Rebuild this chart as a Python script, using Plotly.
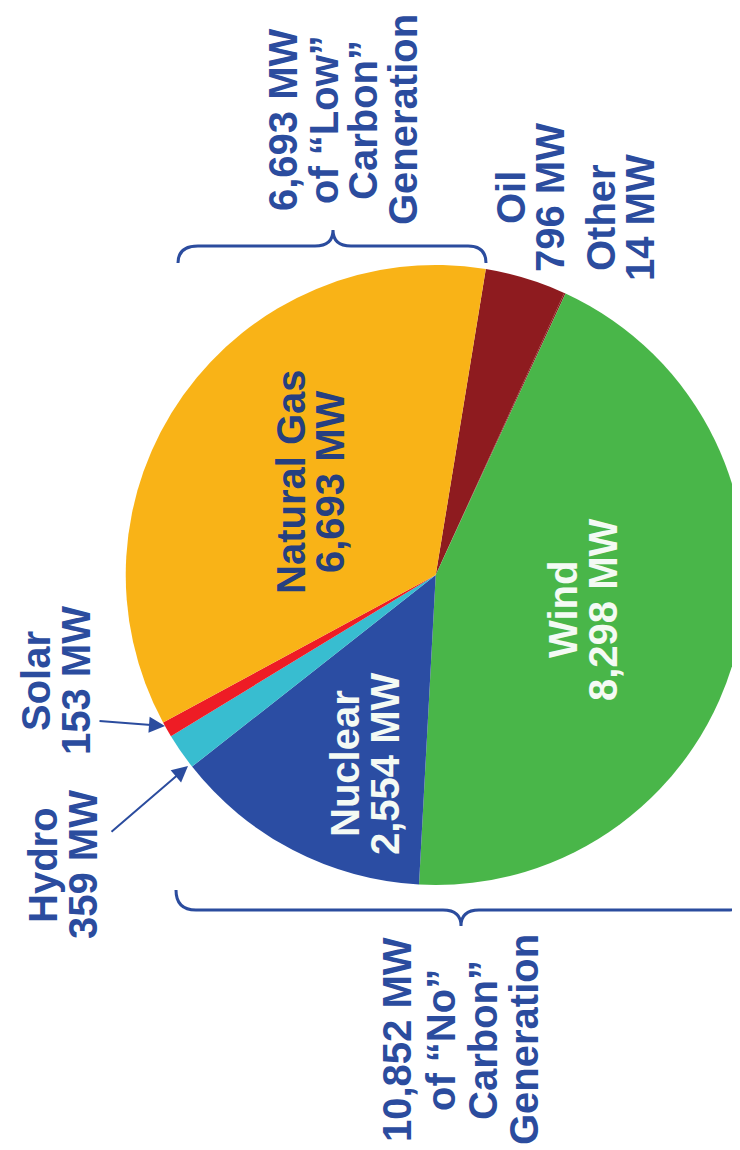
import plotly.graph_objects as go

# ---- data (clockwise order starting from the Gas/Oil boundary) ----
labels = ["Oil", "Other", "Wind", "Nuclear", "Hydro", "Solar", "Natural Gas"]
values_mw = [796, 14, 8298, 2554, 359, 153, 6693]
colors = ["#8E1B1F", "#8E1B1F", "#49B649", "#2B4DA3", "#38BDD0", "#EE1C25", "#F9B317"]

no_carbon_sources = ["Wind", "Nuclear"]
low_carbon_sources = ["Natural Gas"]

val = dict(zip(labels, values_mw))
no_carbon_total = sum(val[s] for s in no_carbon_sources)
low_carbon_total = sum(val[s] for s in low_carbon_sources)

def mw(v):
    return f"{v:,} MW"

BLUE = "#2B4C9E"
NAVY = "#263F80"
WHITE = "#F4FAF4"
FONT = "Liberation Sans, Arial, sans-serif"
FS = 40

fig = go.Figure()

fig.add_trace(go.Pie(
    labels=labels,
    values=values_mw,
    sort=False,
    direction="clockwise",
    rotation=9.3,
    marker=dict(colors=colors, line=dict(width=0)),
    textinfo="none",
    hoverinfo="label+value",
    showlegend=False,
    domain=dict(x=[0.159, 0.997], y=[0.2374, 0.7765]),
))

# invisible pixel-like axes for annotations and braces
fig.add_trace(go.Scatter(x=[0, 740], y=[0, 1150], mode="markers",
                         marker=dict(opacity=0), hoverinfo="skip", showlegend=False))

annotations = []

def block(lines, xs, yc, color):
    for line, x in zip(lines, xs):
        annotations.append(dict(
            x=x, y=yc, xref="x", yref="y", text=line, showarrow=False,
            textangle=-90, xanchor="center", yanchor="middle",
            font=dict(family=FONT, size=FS, color=color, weight="bold"),
        ))

# outside group labels
block([mw(low_carbon_total), "of \u201cLow\u201d", "Carbon\u201d", "Generation"],
      [275, 316, 355, 395], 112, BLUE)
block([mw(no_carbon_total), "of \u201cNo\u201d", "Carbon\u201d", "Generation"],
      [389, 433, 475, 516], 1032, BLUE)

# slice labels
block(["Natural Gas", mw(val["Natural Gas"])], [283, 322], 474, NAVY)
block(["Wind", mw(val["Wind"])], [555, 595], 602, WHITE)
block(["Nuclear", mw(val["Nuclear"])], [337, 377], 756, WHITE)
block(["Solar", mw(val["Solar"])], [28, 68], 673, BLUE)
block(["Hydro", mw(val["Hydro"])], [35, 75], 857, BLUE)
block(["Oil", mw(val["Oil"])], [503, 542], 190, BLUE)
block(["Other", mw(val["Other"])], [593, 632], 210, BLUE)

# arrows for the small slices
for (x0, y0, x1, y1) in [(90, 713, 157, 718), (102, 825, 180, 758)]:
    annotations.append(dict(
        x=x1, y=y1, ax=x0, ay=y0, xref="x", yref="y", axref="x", ayref="y",
        text="", showarrow=True, arrowhead=2, arrowsize=1.6, arrowwidth=2,
        arrowcolor=BLUE,
    ))

shapes = [
    dict(type="path", xref="x", yref="y",
         path="M 170,255 Q 170,238 190,238 L 307,238 Q 325,238 325,222 "
              "Q 325,238 343,238 L 460,238 Q 478,238 478,255",
         line=dict(color=BLUE, width=3)),
    dict(type="path", xref="x", yref="y",
         path="M 168,882 Q 168,902 188,902 L 435,902 Q 453,902 453,918 "
              "Q 453,902 471,902 L 720,902 Q 738,902 739,884",
         line=dict(color=BLUE, width=3)),
]

fig.update_layout(
    width=740, height=1150,
    margin=dict(l=0, r=0, t=0, b=0),
    paper_bgcolor="white", plot_bgcolor="rgba(0,0,0,0)",
    xaxis=dict(range=[0, 740], visible=False, fixedrange=True, domain=[0, 1]),
    yaxis=dict(range=[1150, 0], visible=False, fixedrange=True, domain=[0, 1]),
    annotations=annotations,
    shapes=shapes,
)

fig.write_html("out.html")
